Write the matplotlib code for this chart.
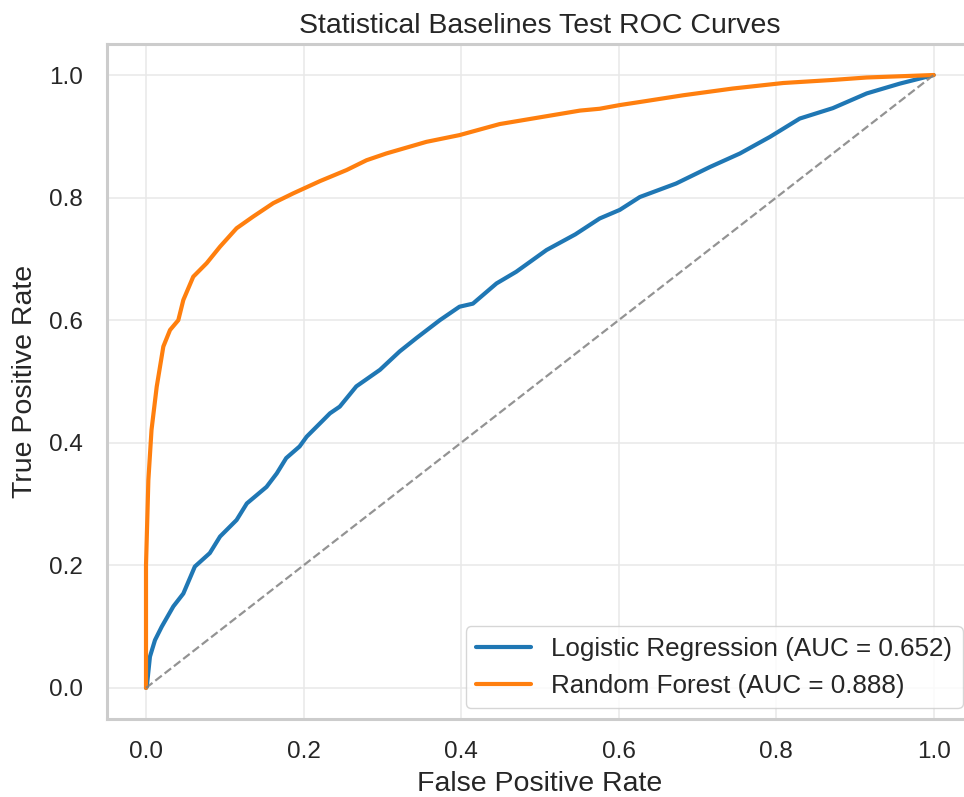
import numpy as np
import matplotlib
matplotlib.use("Agg")
import matplotlib.pyplot as plt
import seaborn as sns

# ROC points (FPR, TPR) for the two statistical baselines
lr_fpr = [0.0, 0.001, 0.005, 0.0114, 0.02, 0.0347, 0.0474, 0.062, 0.081, 0.094,
          0.115, 0.128, 0.153, 0.166, 0.178, 0.195, 0.204, 0.225, 0.2335,
          0.246, 0.267, 0.297, 0.322, 0.3435, 0.373, 0.398, 0.415, 0.445, 0.47,
          0.5085, 0.545, 0.576, 0.6015, 0.627, 0.673, 0.716, 0.754, 0.792, 0.83,
          0.872, 0.915, 0.957, 1.0]
lr_tpr = [0.0, 0.002, 0.051, 0.078, 0.1, 0.133, 0.154, 0.198, 0.22, 0.247,
          0.274, 0.301, 0.328, 0.35, 0.375, 0.394, 0.41, 0.437, 0.448,
          0.459, 0.492, 0.519, 0.549, 0.571, 0.6, 0.622, 0.627, 0.66, 0.679,
          0.7145, 0.74, 0.766, 0.78, 0.801, 0.823, 0.85, 0.872, 0.899, 0.929,
          0.946, 0.97, 0.986, 1.0]

rf_fpr = [0.0, 0.0, 0.003, 0.007, 0.0136, 0.022, 0.0305, 0.041, 0.0474, 0.06,
          0.077, 0.094, 0.115, 0.136, 0.1616, 0.187, 0.221, 0.2547, 0.28, 0.305,
          0.356, 0.398, 0.449, 0.5, 0.551, 0.576, 0.6015, 0.627, 0.682, 0.745,
          0.809, 0.872, 0.915, 1.0]
rf_tpr = [0.0, 0.2, 0.339, 0.421, 0.4915, 0.557, 0.584, 0.6, 0.633, 0.671,
          0.693, 0.72, 0.75, 0.769, 0.791, 0.807, 0.827, 0.845, 0.861, 0.872,
          0.891, 0.902, 0.92, 0.931, 0.942, 0.945, 0.951, 0.956, 0.967, 0.978,
          0.987, 0.992, 0.996, 1.0]

models = ["Logistic Regression", "Random Forest"]
auc_scores = [0.652, 0.888]

sns.set_style("whitegrid")
plt.rcParams['font.family'] = ['Liberation Sans', 'DejaVu Sans']
text_color = '#262626'

fig = plt.figure(figsize=(9.64, 7.97), dpi=100)
ax = fig.add_axes([0.1106, 0.0984, 0.8988, 0.8459])

ax.plot(lr_fpr, lr_tpr, color='#1f77b4', linewidth=3,
        label=f'{models[0]} (AUC = {auc_scores[0]:.3f})')
ax.plot(rf_fpr, rf_tpr, color='#ff7f0e', linewidth=3,
        label=f'{models[1]} (AUC = {auc_scores[1]:.3f})')
ax.plot([0, 1], [0, 1], color='gray', linestyle='--', linewidth=1.6, alpha=0.85)

ax.set_xlim(-0.05, 1.05)
ax.set_ylim(-0.05, 1.05)
ax.set_xticks([0.0, 0.2, 0.4, 0.6, 0.8, 1.0])
ax.set_yticks([0.0, 0.2, 0.4, 0.6, 0.8, 1.0])
ax.tick_params(labelsize=17.5, colors=text_color, length=0)
ax.tick_params(axis='x', pad=16)
ax.tick_params(axis='y', pad=17)

ax.set_xlabel('False Positive Rate', fontsize=20.5, color=text_color, labelpad=6)
ax.set_ylabel('True Positive Rate', fontsize=20.5, color=text_color, labelpad=8)
ax.set_title('Statistical Baselines Test ROC Curves', fontsize=20.5,
             color=text_color, pad=8)

ax.grid(True, color='#e8e8e8', linewidth=1.1)
for spine in ax.spines.values():
    spine.set_color('#cccccc')
    spine.set_linewidth(2.2)
ax.spines['right'].set_visible(False)

leg = ax.legend(loc='lower right', fontsize=18.7, frameon=True, handlelength=2.1,
                borderaxespad=0.4)
leg.get_frame().set_edgecolor('#cccccc')
for t in leg.get_texts():
    t.set_color(text_color)

fig.savefig('out.png', dpi=100, facecolor='white')
